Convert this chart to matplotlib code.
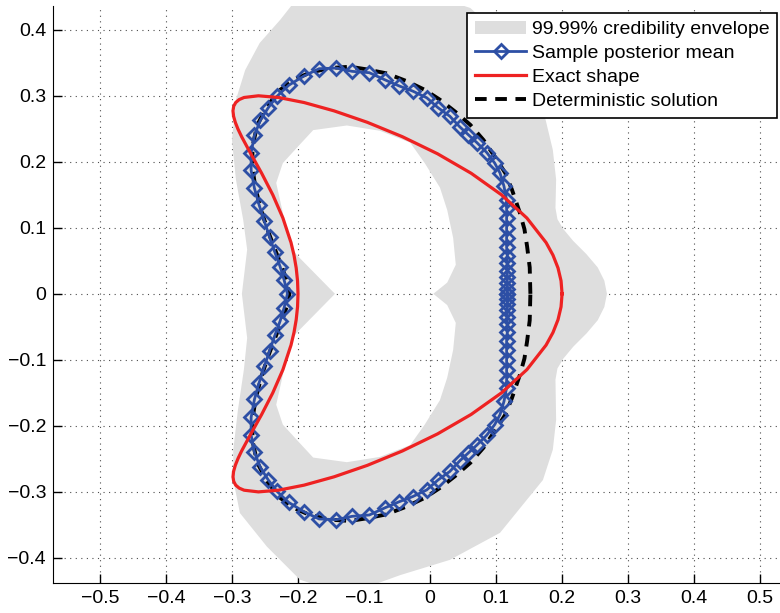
import numpy as np
import matplotlib
matplotlib.use('Agg')
import matplotlib.pyplot as plt
from matplotlib.path import Path
from matplotlib.patches import PathPatch

plt.rcParams['font.family'] = ['Liberation Sans', 'DejaVu Sans']

# credibility envelope, outer edge (full loop)
env_out_x = [0.268, 0.264, 0.254, 0.237, 0.217, 0.202, 0.193, 0.190, 0.191, 0.186, 0.174,
             0.152, 0.114, 0.061, 0.0,
             -0.197, -0.227, -0.258, -0.280, -0.294, -0.300, -0.294, -0.283, -0.277, -0.285,
             -0.277, -0.282, -0.291, -0.298, -0.298, -0.288, -0.247, -0.197, -0.152, -0.106,
             -0.045, 0.030, 0.106, 0.171, 0.186, 0.191, 0.190, 0.193, 0.202, 0.217, 0.237,
             0.254, 0.264]
env_out_y = [0.0, 0.020, 0.040, 0.060, 0.080, 0.098, 0.113, 0.130, 0.173, 0.218, 0.268,
             0.324, 0.385, 0.433, 0.453,
             0.453, 0.415, 0.380, 0.339, 0.294, 0.233, 0.173, 0.112, 0.067, 0.0,
             -0.067, -0.115, -0.176, -0.236, -0.282, -0.332, -0.383, -0.433, -0.448, -0.448,
             -0.426, -0.403, -0.362, -0.282, -0.236, -0.191, -0.130, -0.113, -0.098, -0.080,
             -0.060, -0.040, -0.020]

# envelope hole, upper half (left spike -> top -> right notch)
hole_x = [-0.144, -0.202, -0.212, -0.223, -0.233, -0.223, -0.202, -0.177, -0.126, -0.076,
          -0.030, -0.008, 0.015, 0.026, 0.035, 0.039, 0.026, 0.005]
hole_y = [0.0, 0.059, 0.074, 0.123, 0.168, 0.198, 0.221, 0.248, 0.255, 0.247,
          0.229, 0.198, 0.161, 0.127, 0.085, 0.044, 0.017, 0.0]

# sample posterior mean, upper half (right -> top -> left)
mean_x = [0.117, 0.117, 0.117, 0.117, 0.117, 0.117, 0.117, 0.116, 0.116, 0.116, 0.116, 0.116,
          0.116, 0.112, 0.106, 0.098, 0.086, 0.071, 0.058, 0.045, 0.030, 0.012, -0.005,
          -0.026, -0.047, -0.068, -0.092, -0.118, -0.142, -0.168, -0.191, -0.214, -0.232,
          -0.245, -0.257, -0.266, -0.271, -0.271, -0.266, -0.259, -0.251, -0.243, -0.235,
          -0.227, -0.221, -0.216]
mean_y = [0.0, 0.008, 0.016, 0.025, 0.035, 0.046, 0.058, 0.071, 0.085, 0.100, 0.115, 0.130,
          0.142, 0.163, 0.183, 0.198, 0.214, 0.229, 0.241, 0.253, 0.269, 0.282, 0.297,
          0.307, 0.315, 0.324, 0.335, 0.337, 0.342, 0.341, 0.330, 0.316, 0.299,
          0.282, 0.263, 0.240, 0.214, 0.187, 0.160, 0.135, 0.110, 0.086, 0.063,
          0.041, 0.021, 0.0]

# exact shape, upper half
exact_x = [0.2, 0.19846, 0.19386, 0.18626, 0.17577, 0.14670, 0.10821, 0.06232, 0.01142,
           -0.04189, -0.095, -0.14539, -0.19082, -0.22946, -0.26, -0.28168, -0.28912,
           -0.29435, -0.29742, -0.29846, -0.29760, -0.295, -0.29086, -0.28540, -0.27142,
           -0.25502, -0.23821, -0.22285, -0.21060, -0.20605, -0.20272, -0.20068, -0.2]
exact_y = [0.0, 0.01962, 0.03916, 0.05853, 0.07765, 0.11481, 0.15, 0.18263, 0.21213,
           0.23801, 0.25981, 0.27716, 0.28978, 0.29743, 0.3, 0.29743, 0.29424,
           0.28978, 0.28408, 0.27716, 0.26906, 0.25981, 0.24944, 0.23801, 0.21213,
           0.18263, 0.15, 0.11481, 0.07765, 0.05853, 0.03916, 0.01962, 0.0]

# deterministic solution, upper half
det_x = [0.152, 0.151, 0.147, 0.143, 0.136, 0.124, 0.114, 0.098, 0.081, 0.061, 0.038, 0.015,
         -0.008, -0.035, -0.066, -0.096, -0.121, -0.152, -0.182, -0.205, -0.227, -0.247,
         -0.262, -0.269, -0.269, -0.264, -0.255, -0.245, -0.234, -0.224, -0.217, -0.213]
det_y = [0.0, 0.040, 0.072, 0.098, 0.123, 0.158, 0.183, 0.208, 0.233, 0.256, 0.276, 0.294,
         0.309, 0.322, 0.334, 0.340, 0.344, 0.342, 0.335, 0.325, 0.309, 0.284,
         0.255, 0.222, 0.190, 0.158, 0.124, 0.094, 0.065, 0.040, 0.019, 0.0]


def mirror(xs, ys):
    # upper half + mirrored lower half, closed loop
    xs = np.asarray(xs)
    ys = np.asarray(ys)
    fx = np.concatenate([xs, xs[-2::-1]])
    fy = np.concatenate([ys, -ys[-2::-1]])
    return fx, fy


fig = plt.figure(figsize=(7.8, 6.13), dpi=100)
ax = fig.add_axes([53 / 780, 30 / 613, 727 / 780, 577 / 613])

# envelope with hole
ox = np.array(env_out_x)
oy = np.array(env_out_y)
hx, hy = mirror(hole_x, hole_y)
verts = np.concatenate([np.column_stack([ox, oy]), [[ox[0], oy[0]]],
                        np.column_stack([hx, hy])])
codes = ([Path.MOVETO] + [Path.LINETO] * (len(ox) - 1) + [Path.CLOSEPOLY] +
         [Path.MOVETO] + [Path.LINETO] * (len(hx) - 1))
env = PathPatch(Path(verts, codes), facecolor='#dedede', edgecolor='none', zorder=1,
                label='99.99% credibility envelope')
ax.add_patch(env)

mx, my = mirror(mean_x, mean_y)
ax.plot(mx, my, color='#2d4fa5', lw=2, marker='D', ms=7, mfc='none', mew=2,
        zorder=3, label='Sample posterior mean')
ex, ey = mirror(exact_x, exact_y)
ax.plot(ex, ey, color='#ee2222', lw=2.3, zorder=4, label='Exact shape')
dx, dy = mirror(det_x, det_y)
ax.plot(dx, dy, color='black', lw=2.8, ls=(0, (3, 2.2)), zorder=2,
        label='Deterministic solution')

ax.set_xlim(-0.571, 0.530)
ax.set_ylim(-0.438, 0.436)
ax.set_aspect('equal', adjustable='box')
ax.set_xticks(np.arange(-0.5, 0.51, 0.1))
ax.set_yticks(np.arange(-0.4, 0.41, 0.1))
ax.set_xticklabels(['\u22120.5', '\u22120.4', '\u22120.3', '\u22120.2', '\u22120.1', '0',
                    '0.1', '0.2', '0.3', '0.4', '0.5'])
ax.set_yticklabels(['\u22120.4', '\u22120.3', '\u22120.2', '\u22120.1', '0',
                    '0.1', '0.2', '0.3', '0.4'])
ax.tick_params(direction='in', length=6.5, width=1, labelsize=14, pad=5)
ax.spines['top'].set_visible(False)
ax.spines['right'].set_visible(False)
ax.grid(True, color='0.3', ls=(0, (1, 4)), lw=0.8)
ax.set_axisbelow(True)

leg = ax.legend(loc='upper right', bbox_to_anchor=(0.996, 0.988), borderaxespad=0,
                fontsize=14, fancybox=False, edgecolor='black', framealpha=1,
                handlelength=2.6, labelspacing=0.32, borderpad=0.4, handletextpad=0.3)
leg.get_frame().set_linewidth(1.2)

fig.savefig('out.png', dpi=100)
